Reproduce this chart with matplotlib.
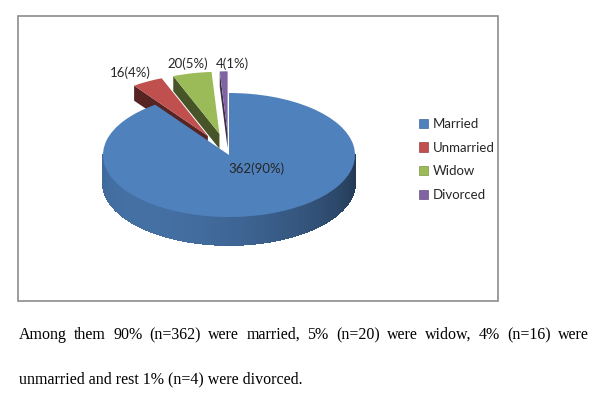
import numpy as np
import matplotlib
matplotlib.use("Agg")
import matplotlib.pyplot as plt
from matplotlib.patches import Rectangle
from matplotlib.collections import PolyCollection
from matplotlib.colors import to_rgb

# marital status data
categories = ["Married", "Unmarried", "Widow", "Divorced"]
counts = [362, 16, 20, 4]
percents = [90, 4, 5, 1]
colors = ["#4F81BD", "#C0504D", "#9BBB59", "#8064A2"]
explode = [0.0, 0.35, 0.35, 0.35]

line1 = "Among them 90% (n=362) were married, 5% (n=20) were widow, 4% (n=16) were"
line2 = "unmarried and rest 1% (n=4) were divorced."

W, H = 611, 395
fig = plt.figure(figsize=(W / 100, H / 100), dpi=100)
fig.patch.set_facecolor("white")

# chart frame like the excel chart box
fig.patches.append(Rectangle((18 / W, 1 - 301 / H), 480 / W, 285 / H,
                             transform=fig.transFigure, fill=False,
                             edgecolor="#8c8c8c", linewidth=1.2))

# pie axes: x unit = rx px, y unit = ry px (squashed ellipse)
cx, cy, rx, ry = 229, 155, 126, 62
ax_l, ax_r, ax_t, ax_b = 60, 400, 40, 270
ax = fig.add_axes([ax_l / W, 1 - ax_b / H, (ax_r - ax_l) / W, (ax_b - ax_t) / H])
depth = 28 / ry
depth_back = 15 / ry  # back pieces look thinner (perspective)

wedges, _ = ax.pie(counts, colors=colors, explode=explode, startangle=90,
                   counterclock=False, radius=1,
                   wedgeprops=dict(linewidth=0))
ax.set_aspect("auto")
ax.set_xlim((ax_l - cx) / rx, (ax_r - cx) / rx)
ax.set_ylim((cy - ax_b) / ry, (cy - ax_t) / ry)
ax.axis("off")


def shade(c, f):
    r, g, b = to_rgb(c)
    return (r * f, g * f, b * f)


for i, w in enumerate(wedges):
    t1, t2 = w.theta1, w.theta2
    ox, oy = w.center
    if i == 0:
        # front outer wall with gradient
        polys, fcs = [], []
        ts = np.linspace(180, 360, 121)
        for a, b in zip(ts[:-1], ts[1:]):
            ra, rb = np.radians(a), np.radians(b)
            p = [(ox + np.cos(ra), oy + np.sin(ra)), (ox + np.cos(rb), oy + np.sin(rb)),
                 (ox + np.cos(rb), oy + np.sin(rb) - depth), (ox + np.cos(ra), oy + np.sin(ra) - depth)]
            polys.append(p)
            m = np.radians((a + b) / 2)
            fcs.append(shade(colors[i], 0.62 + 0.25 * np.cos(m - np.radians(225))))
        ax.add_collection(PolyCollection(polys, facecolors=fcs, edgecolors=fcs,
                                         linewidths=0.6, antialiaseds=False, zorder=3))
        w.set_zorder(4)
    else:
        # radial cut face at the larger-angle edge faces the viewer
        r2 = np.radians(t2)
        p = [(ox, oy), (ox + np.cos(r2), oy + np.sin(r2)),
             (ox + np.cos(r2), oy + np.sin(r2) - depth_back), (ox, oy - depth_back)]
        ax.add_collection(PolyCollection([p], facecolors=[shade(colors[i], 0.45)],
                                         edgecolors="none", zorder=1))
        w.set_zorder(2)

lab_font = dict(family=["Lato", "DejaVu Sans"], fontsize=9.5, color="#262626")
label_pos = [(0.22, -0.22), (-0.78, 1.33), (-0.33, 1.47), (0.03, 1.47)]
for (lx, ly), n, p in zip(label_pos, counts, percents):
    ax.text(lx, ly, f"{n}({p}%)", ha="center", va="center", zorder=6, **lab_font)

handles = [Rectangle((0, 0), 1, 1, facecolor=c, edgecolor=shade(c, 0.8), linewidth=0.5)
           for c in colors]
fig.legend(handles, categories, loc="upper left", bbox_to_anchor=(407 / W, 1 - 106 / H),
           frameon=False, handlelength=0.7, handleheight=0.7, handletextpad=0.35,
           labelspacing=0.89, prop=dict(family="Lato", size=9.5), labelcolor="#262626")

# justified caption text
serif = dict(family="Liberation Serif", fontsize=11.5, color="black", va="center")
words = line1.split()
texts = [fig.text(0, 1 - 335 / H, wd, **serif) for wd in words]
renderer = fig.canvas.get_renderer()
widths = [t.get_window_extent(renderer).width for t in texts]
left, right = 19, 589
gap = (right - left - sum(widths)) / (len(words) - 1)
x = left
for t, wd in zip(texts, widths):
    t.set_x(x / W)
    x += wd + gap
fig.text(left / W, 1 - 379 / H, line2, **serif)

fig.savefig("out.png", dpi=100)
